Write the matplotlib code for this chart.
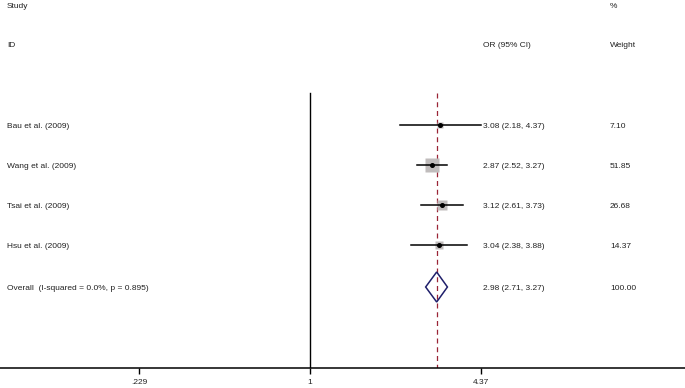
import numpy as np
import matplotlib
matplotlib.use("Agg")
import matplotlib.pyplot as plt
from matplotlib.patches import Polygon

plt.rcParams['font.family'] = ['Liberation Sans', 'DejaVu Sans']

studies = ["Bau et al. (2009)", "Wang et al. (2009)", "Tsai et al. (2009)", "Hsu et al. (2009)"]
ors = [3.08, 2.87, 3.12, 3.04]
lows = [2.18, 2.52, 2.61, 2.38]
highs = [4.37, 3.27, 3.73, 3.88]
weights = [7.10, 51.85, 26.68, 14.37]
overall_label = "Overall  (I-squared = 0.0%, p = 0.895)"
overall_or, overall_lo, overall_hi = 2.98, 2.71, 3.27
tick_vals = [0.229, 1, 4.37]
tick_labels = [".229", "1", "4.37"]

W, H = 685, 388
fig = plt.figure(figsize=(W/100, H/100), dpi=100)
ax = fig.add_axes([0, 20/H, 1, 368/H])
ax.set_xscale('log')
ppl = 116.0
x1 = 310.0
ax.set_xlim(np.exp(-x1/ppl), np.exp((W - x1)/ppl))
ax.set_ylim(368, 0)

for s in ['top', 'left', 'right']:
    ax.spines[s].set_visible(False)
ax.spines['bottom'].set_linewidth(1.1)
ax.set_yticks([])
ax.set_xticks(tick_vals)
ax.set_xticklabels(tick_labels, fontsize=6, color='#222222')
ax.minorticks_off()
ax.tick_params(axis='x', length=4, width=1, pad=4)

row_y = [125, 165, 205, 245]
over_y = 287
top_y = 93

ax.plot([1, 1], [top_y, 368], color='black', lw=1.0)
ax.plot([overall_or, overall_or], [top_y, 368], color='#9a2436', lw=0.9, ls=(0, (4, 3)))

fs = 6
tc = '#222222'
dy = 1.2
xs, xo, xw = 7/W, 483/W, 610/W
tr = ax.get_yaxis_transform()
for name, o, lo, hi, w, y in zip(studies, ors, lows, highs, weights, row_y):
    ms = 10.1 * np.sqrt(w / 51.85)
    ax.plot([o], [y], marker='s', ms=ms, color='#c0bcbc', mec='none', zorder=2)
    ax.plot([lo, hi], [y, y], color='black', lw=1.1, zorder=3)
    ax.plot([o], [y], marker='o', ms=2.6, color='black', zorder=4)
    ax.text(xs, y + dy, name, transform=tr, fontsize=fs, va='center', ha='left', color=tc)
    ax.text(xo, y + dy, f"{o:.2f} ({lo:.2f}, {hi:.2f})", transform=tr, fontsize=fs, va='center', ha='left', color=tc)
    ax.text(xw, y + dy, f"{w:.2f}", transform=tr, fontsize=fs, va='center', ha='left', color=tc)

dh = 15
diamond = Polygon([[overall_lo, over_y], [overall_or, over_y - dh], [overall_hi, over_y], [overall_or, over_y + dh]],
                  closed=True, fill=False, edgecolor='#1f1f6b', lw=1.1, zorder=3)
ax.add_patch(diamond)
ax.text(xs, over_y + dy, overall_label, transform=tr, fontsize=fs, va='center', ha='left', color=tc)
ax.text(xo, over_y + dy, f"{overall_or:.2f} ({overall_lo:.2f}, {overall_hi:.2f})", transform=tr, fontsize=fs, va='center', ha='left', color=tc)
ax.text(xw, over_y + dy, "100.00", transform=tr, fontsize=fs, va='center', ha='left', color=tc)

ax.text(xs, 5 + dy, "Study", transform=tr, fontsize=fs, va='center', ha='left', color=tc)
ax.text(xw, 5 + dy, "%", transform=tr, fontsize=fs, va='center', ha='left', color=tc)
ax.text(xs, 44 + dy, "ID", transform=tr, fontsize=fs, va='center', ha='left', color=tc)
ax.text(xo, 44 + dy, "OR (95% CI)", transform=tr, fontsize=fs, va='center', ha='left', color=tc)
ax.text(xw, 44 + dy, "Weight", transform=tr, fontsize=fs, va='center', ha='left', color=tc)

fig.savefig("out.png", dpi=100)
